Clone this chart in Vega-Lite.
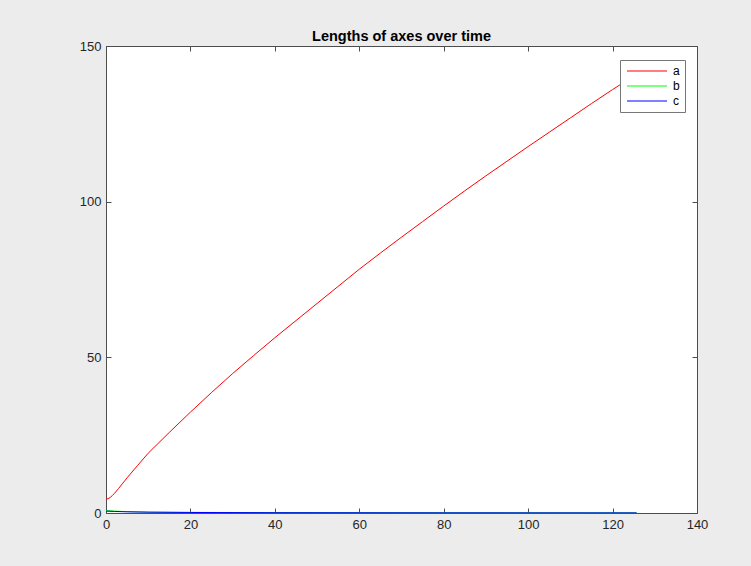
{
  "$schema": "https://vega.github.io/schema/vega-lite/v6.json",
  "width": 591,
  "height": 467,
  "autosize": {"type": "none"},
  "padding": {"left": 106, "top": 46, "right": 54, "bottom": 53},
  "background": "#ececec",
  "title": {"text": "Lengths of axes over time", "font": "Liberation Sans", "fontSize": 14.5, "fontWeight": "bold", "color": "#000000", "anchor": "middle", "offset": -4},
  "config": {
    "view": {"fill": "#ffffff", "stroke": null},
    "axis": {"grid": false, "domainColor": "#4d4d4d", "tickColor": "#4d4d4d", "tickSize": -5, "labelFont": "Liberation Sans", "labelFontSize": 13, "labelColor": "#262626", "title": null, "labelPadding": 10, "labelFlush": false}
  },
  "data": {"values": [
    {"t": 0, "v": 4.5, "s": "a"}, {"t": 0.5, "v": 4.6, "s": "a"}, {"t": 1, "v": 5.0, "s": "a"}, {"t": 1.5, "v": 5.6, "s": "a"}, {"t": 2, "v": 6.3, "s": "a"}, {"t": 3, "v": 7.9, "s": "a"}, {"t": 4, "v": 9.6, "s": "a"}, {"t": 5, "v": 11.3, "s": "a"}, {"t": 7.5, "v": 15.3, "s": "a"}, {"t": 10, "v": 19.2, "s": "a"}, {"t": 15, "v": 25.9, "s": "a"}, {"t": 20, "v": 32.4, "s": "a"}, {"t": 25, "v": 38.7, "s": "a"}, {"t": 30, "v": 44.8, "s": "a"}, {"t": 35, "v": 50.6, "s": "a"}, {"t": 40, "v": 56.3, "s": "a"}, {"t": 45, "v": 61.8, "s": "a"}, {"t": 50, "v": 67.3, "s": "a"}, {"t": 55, "v": 72.8, "s": "a"}, {"t": 60, "v": 78.3, "s": "a"}, {"t": 65, "v": 83.5, "s": "a"}, {"t": 70, "v": 88.6, "s": "a"}, {"t": 75, "v": 93.6, "s": "a"}, {"t": 80, "v": 98.6, "s": "a"}, {"t": 85, "v": 103.5, "s": "a"}, {"t": 90, "v": 108.3, "s": "a"}, {"t": 95, "v": 113.0, "s": "a"}, {"t": 100, "v": 117.7, "s": "a"}, {"t": 105, "v": 122.3, "s": "a"}, {"t": 110, "v": 126.9, "s": "a"}, {"t": 115, "v": 131.5, "s": "a"}, {"t": 120, "v": 136.0, "s": "a"}, {"t": 125.7, "v": 141.0, "s": "a"},
    {"t": 0, "v": 0.8, "s": "b"}, {"t": 2, "v": 0.6, "s": "b"}, {"t": 5, "v": 0.45, "s": "b"}, {"t": 10, "v": 0.3, "s": "b"}, {"t": 20, "v": 0.2, "s": "b"}, {"t": 40, "v": 0.12, "s": "b"}, {"t": 60, "v": 0.09, "s": "b"}, {"t": 80, "v": 0.07, "s": "b"}, {"t": 100, "v": 0.06, "s": "b"}, {"t": 125.7, "v": 0.05, "s": "b"},
    {"t": 0, "v": 0.6, "s": "c"}, {"t": 2, "v": 0.5, "s": "c"}, {"t": 5, "v": 0.38, "s": "c"}, {"t": 10, "v": 0.26, "s": "c"}, {"t": 20, "v": 0.17, "s": "c"}, {"t": 40, "v": 0.1, "s": "c"}, {"t": 60, "v": 0.08, "s": "c"}, {"t": 80, "v": 0.06, "s": "c"}, {"t": 100, "v": 0.05, "s": "c"}, {"t": 125.7, "v": 0.04, "s": "c"}
  ]},
  "layer": [
    {
      "mark": {"type": "line", "strokeWidth": 1, "clip": true},
      "encoding": {
        "x": {"field": "t", "type": "quantitative", "scale": {"domain": [0, 140], "nice": false}, "axis": {"values": [0, 20, 40, 60, 80, 100, 120, 140], "orient": "bottom"}},
        "y": {"field": "v", "type": "quantitative", "scale": {"domain": [0, 150], "nice": false, "zero": false}, "axis": {"values": [0, 50, 100, 150], "orient": "left"}},
        "color": {"field": "s", "type": "nominal", "scale": {"domain": ["a", "b", "c"], "range": ["#ff0000", "#00ff00", "#0000ff"]},
          "legend": {"title": null, "orient": "none", "legendX": 514, "legendY": 14, "symbolType": "M-4,0H4", "symbolSize": 100, "symbolStrokeWidth": 1.2, "symbolFillColor": "transparent", "labelFont": "Liberation Sans", "labelFontSize": 12, "labelColor": "#000000", "fillColor": "#ffffff", "strokeColor": "#777777", "padding": 5, "rowPadding": 3, "labelOffset": 20, "symbolOffset": 16}}
      }
    },
    {
      "mark": {"type": "point", "opacity": 0},
      "encoding": {
        "x": {"field": "t", "type": "quantitative", "scale": {"domain": [0, 140], "nice": false}, "axis": {"values": [0, 20, 40, 60, 80, 100, 120, 140], "orient": "top", "labels": false}},
        "y": {"field": "v", "type": "quantitative", "scale": {"domain": [0, 150], "nice": false, "zero": false}, "axis": {"values": [0, 50, 100, 150], "orient": "right", "labels": false}}
      }
    }
  ],
  "resolve": {"axis": {"x": "independent", "y": "independent"}}
}
